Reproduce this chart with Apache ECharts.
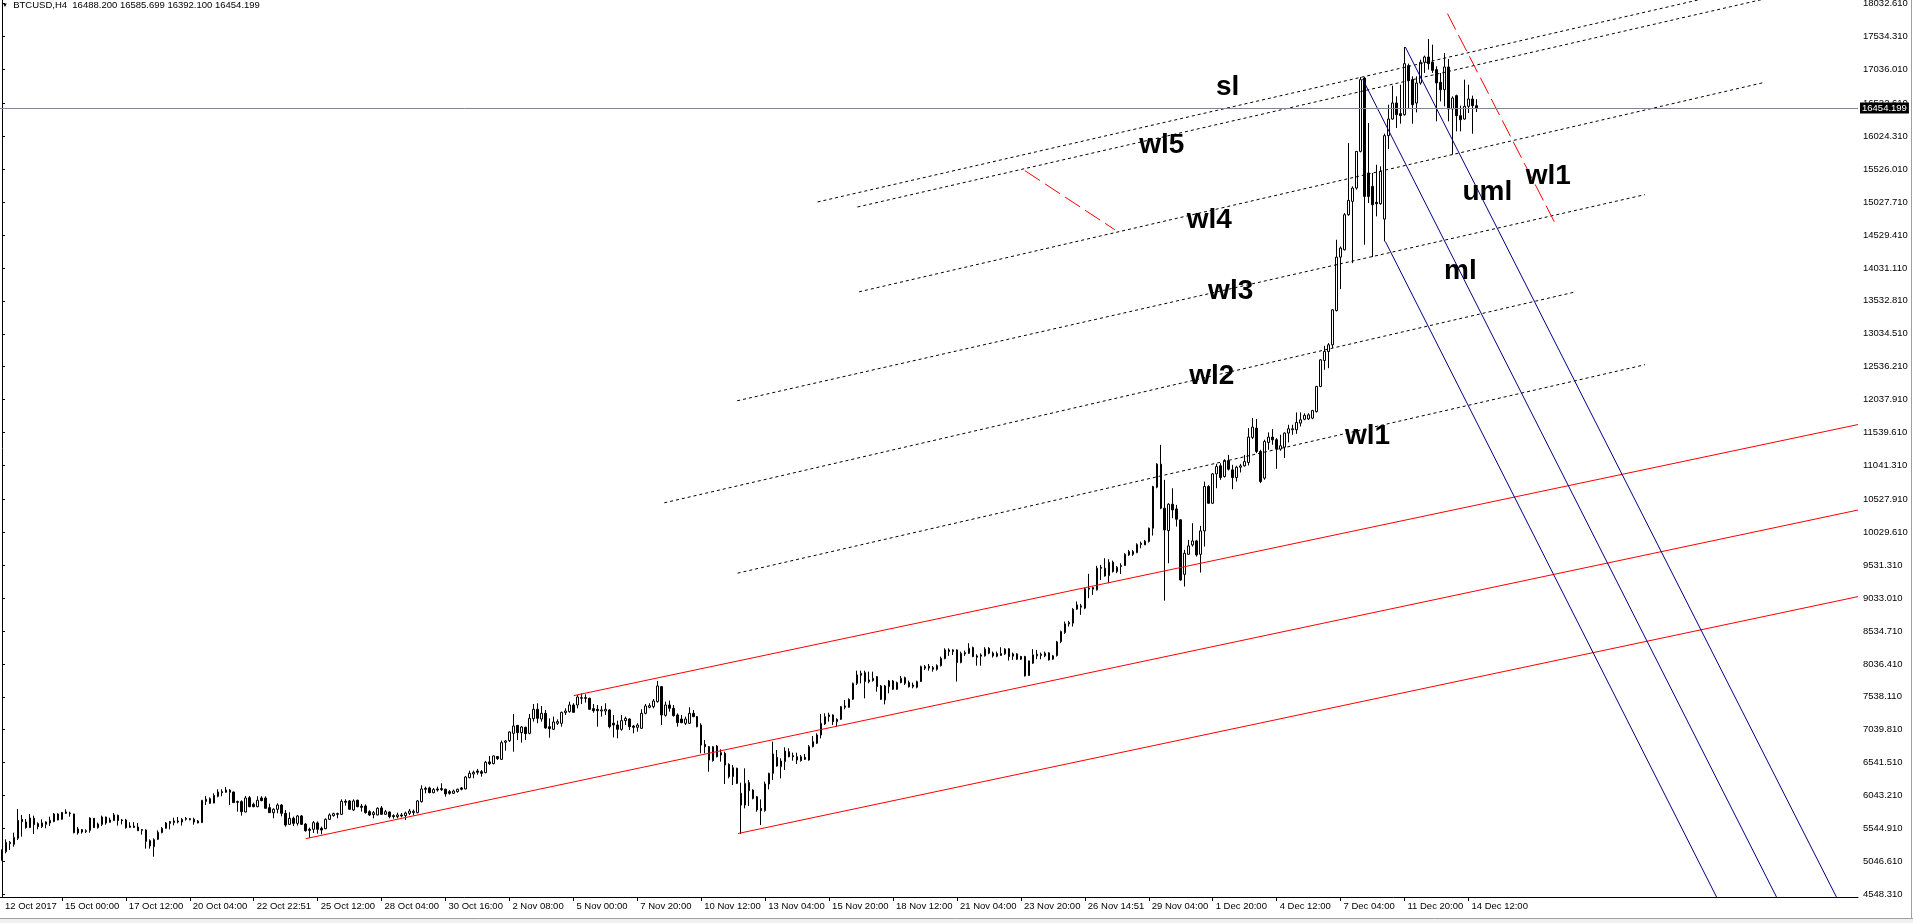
<!DOCTYPE html>
<html><head><meta charset="utf-8">
<script src="https://cdn.jsdelivr.net/npm/echarts@6/dist/echarts.min.js"></script>
<style>html,body{margin:0;padding:0;background:#fff;overflow:hidden}#c{width:1913px;height:923px}</style>
</head><body><div id="c"></div>
<script>
// ---- candle data (BTCUSD H4) ----
const open = [5067,5193,5314,5304,5395,5683,5643,5557,5698,5617,5572,5607,5628,5648,5764,5683,5794,5779,5764,5476,5527,5496,5516,5698,5557,5607,5718,5638,5663,5744,5673,5673,5582,5580,5567,5527,5521,5360,5269,5380,5481,5547,5648,5633,5658,5643,5698,5693,5683,5658,5633,5986,5996,5930,6032,6102,6092,6127,6097,5951,5951,5794,6011,5910,5875,6006,6006,5860,5784,5835,5900,5774,5607,5698,5622,5734,5612,5532,5532,5628,5547,5542,5683,5739,5769,5759,5956,5961,5825,5971,5880,5885,5799,5754,5749,5855,5759,5794,5739,5724,5749,5739,5774,5784,5784,5951,6153,6158,6087,6143,6148,6138,6102,6077,6102,6158,6143,6314,6370,6415,6405,6390,6552,6526,6633,
6591,6849,6874,6985,7106,6995,7076,6985,7207,7349,7202,7288,7086,7046,7137,7137,7298,7313,7414,7414,7515,7525,7515,7359,7349,7323,7323,7339,7137,7111,7046,7177,7202,7096,7076,7061,7288,7379,7389,7465,7692,7258,7414,7364,7263,7202,7137,7137,7288,7238,7111,6818,6783,6571,6793,6657,6682,6515,6329,6455,6076,5899,6238,6127,6025,5849,5814,6218,6379,6621,6480,6556,6707,6647,6631,6571,6621,6581,6783,6834,6960,7127,7238,7263,7162,7197,7379,7379,7500,7742,7864,7904,7793,7783,7843,7702,7490,7692,7778,7652,7753,7828,7753,7692,7682,7768,7970,7975,7955,7955,8010,8116,8222,8222,8248,8056,8187,8197,8283,8157,8152,8158,8274,8198,
8193,8163,8188,8264,8153,8188,8148,8148,7860,8047,8158,8163,8158,8203,8107,8163,8375,8511,8642,8653,8865,8895,8880,9168,9168,9158,9499,9484,9373,9575,9434,9509,9525,9686,9737,9722,9843,9838,9889,10090,10712,11060,10393,10055,10454,10383,10217,9393,9696,9838,9898,9696,10050,10722,10469,10913,11035,10873,11115,10974,10858,11014,11035,11086,11465,11606,11253,10849,11389,11470,11430,11288,11318,11531,11581,11581,11682,11740,11746,11757,11857,12236,12630,12766,12867,13387,14195,14306,14837,15039,15241,15796,16907,15468,15266,15024,15004,14771,16034,16286,16529,16367,16352,17094,16882,16528,16831,17145,17225,17145,17034,16842,16730,17074,16438,16640,16337,16286,16478,16589,16488.2];
const close = [5203,5335,5335,5410,5668,5648,5557,5703,5602,5572,5628,5643,5668,5764,5673,5789,5774,5769,5481,5537,5491,5511,5703,5557,5612,5718,5628,5673,5749,5663,5663,5557,5562,5560,5511,5516,5350,5279,5375,5486,5547,5628,5622,5658,5643,5683,5683,5678,5643,5628,5971,5956,5925,6047,6097,6087,6127,6092,5936,5941,5799,6006,5875,5875,5971,5966,5850,5784,5835,5900,5774,5597,5698,5622,5734,5607,5511,5516,5633,5532,5521,5683,5749,5769,5759,5956,5941,5835,5961,5875,5865,5784,5749,5784,5850,5759,5799,5724,5724,5749,5734,5779,5809,5804,5961,6143,6138,6087,6133,6127,6133,6067,6077,6112,6138,6138,6324,6380,6395,6395,6380,6547,6526,6643,6602,
6844,6869,7005,7096,6995,7081,6980,7212,7349,7212,7288,7066,7056,7157,7162,7303,7323,7414,7303,7535,7525,7515,7349,7328,7328,7339,7349,7086,7111,7046,7177,7212,7086,7076,7111,7288,7399,7404,7475,7702,7263,7414,7364,7253,7147,7147,7202,7288,7238,7086,6808,6783,6581,6783,6631,6692,6505,6329,6465,6228,5899,6228,6117,6000,5824,5814,6218,6379,6672,6490,6566,6717,6631,6631,6581,6631,6591,6783,6859,6960,7137,7238,7263,7162,7197,7389,7399,7500,7742,7869,7894,7768,7768,7818,7692,7500,7702,7778,7652,7753,7818,7742,7692,7717,7768,7995,7995,8000,7980,8010,8121,8248,8248,8248,8056,8197,8207,8273,8147,8137,8172,8259,8198,8158,
8153,8193,8259,8148,8188,8107,8107,7855,8082,8173,8183,8183,8198,8097,8158,8370,8526,8642,8663,8865,8930,8915,9173,9183,9193,9486,9484,9368,9575,9434,9499,9525,9696,9737,9696,9843,9863,9894,10090,10722,11060,10393,10065,10454,10368,10227,9307,9712,9823,9898,9686,10050,10722,10469,10913,11024,10858,11115,10984,10858,11014,11035,11100,11470,11621,11253,10798,11404,11470,11430,11293,11339,11531,11596,11596,11692,11732,11800,11807,11872,12236,12640,12766,12867,13397,14195,14332,14837,15054,15241,15796,16882,15114,15114,14988,15004,15493,16034,16286,16529,16352,16337,17124,16872,16503,16831,17145,17225,17124,17023,16831,16730,17074,16438,16604,16337,16276,16478,16589,16488,16454.199];
const low = [5057,5168,5218,5269,5370,5420,5542,5552,5461,5532,5552,5547,5582,5640,5668,5678,5764,5724,5471,5451,5466,5476,5481,5552,5542,5582,5602,5633,5658,5587,5607,5542,5557,5555,5506,5451,5239,5239,5117,5370,5471,5542,5532,5592,5622,5587,5663,5668,5602,5622,5628,5900,5920,5925,6016,6032,6087,5900,5930,5799,5739,5789,5865,5865,5865,5956,5845,5779,5698,5774,5729,5572,5597,5582,5587,5597,5496,5400,5476,5466,5456,5532,5673,5724,5698,5749,5890,5825,5809,5865,5799,5769,5734,5698,5744,5749,5749,5698,5693,5698,5713,5673,5749,5744,5774,5936,6077,6077,6077,6102,6112,6027,6057,6067,6087,6122,6138,6304,6304,6360,6330,6380,6506,6516,6582,
6581,6722,6854,6707,6884,6844,6884,6970,7162,7137,7162,7056,6919,7035,7111,7086,7263,7298,7298,7364,7429,7450,7339,7298,7086,7238,7263,7061,6924,6909,7025,7111,7035,6985,7010,7051,7273,7364,7364,7450,7111,7238,7313,7238,7086,7137,7111,7127,7228,7076,6682,6682,6404,6556,6621,6556,6217,6303,6202,6217,5460,5849,5884,5985,5798,5596,5798,6137,6278,6480,6303,6430,6621,6571,6520,6556,6581,6571,6773,6823,6909,7111,7162,7111,7086,7187,7349,7374,7490,7717,7742,7515,7742,7768,7616,7490,7424,7591,7642,7642,7742,7717,7677,7667,7667,7763,7944,7934,7919,7934,7995,8106,8157,8172,7768,8046,8157,8187,8137,8010,8008,8147,8183,8132,
8137,8158,8173,8087,8097,8097,8097,7845,7855,8036,8107,8107,8137,8087,8097,8147,8350,8491,8602,8602,8855,8779,8865,9031,9082,9147,9307,9358,9257,9419,9409,9398,9520,9671,9671,9712,9787,9838,9873,9979,10696,10378,8994,9560,10242,10116,9297,9207,9686,9813,9661,9419,9813,10459,10459,10696,10823,10858,10964,10681,10797,10934,11024,11041,11440,11228,10773,10824,11278,11354,10990,11263,11152,11389,11505,11520,11632,11725,11731,11741,11842,12226,12489,12514,12817,13372,13711,14296,14822,14104,15216,15781,14382,15014,14195,14812,14988,14433,15832,16276,16150,16215,16337,16453,16215,16387,16806,16983,17034,16983,16251,16554,16478,16251,15746,16099,16099,16276,16377,16064,16392.1];
const high = [5229,5380,5355,5481,5840,5749,5688,5764,5739,5638,5683,5653,5724,5779,5774,5792,5835,5799,5768,5567,5537,5532,5713,5703,5633,5739,5724,5708,5779,5754,5688,5688,5638,5640,5628,5537,5532,5380,5395,5516,5567,5643,5658,5708,5718,5703,5718,5703,5708,5673,5976,6037,6016,6077,6138,6138,6173,6138,6102,5966,5971,6037,6037,5936,6032,6032,6032,5920,5850,5925,5915,5825,5789,5724,5749,5749,5628,5557,5658,5653,5572,5698,5774,5784,5784,5986,5986,5976,5986,5981,5915,5910,5820,5809,5865,5885,5825,5804,5759,5784,5779,5799,5840,5830,5976,6198,6178,6178,6158,6178,6229,6148,6127,6133,6148,6173,6340,6420,6420,6446,6430,6567,6643,6648,6643,
6874,6884,7015,7278,7111,7096,7086,7278,7429,7440,7399,7339,7212,7238,7197,7313,7364,7465,7440,7566,7591,7576,7525,7429,7414,7399,7440,7349,7263,7177,7263,7238,7212,7111,7137,7349,7429,7440,7505,7778,7702,7465,7480,7414,7288,7263,7238,7379,7339,7248,7137,6884,6793,6793,6808,6742,6707,6531,6505,6465,6238,6455,6278,6137,6036,5985,6253,6389,6859,6732,6606,6773,6758,6692,6692,6657,6672,6808,6945,6985,7278,7288,7298,7273,7212,7399,7490,7515,7753,7934,7934,7934,7919,7919,7853,7717,7717,7793,7793,7768,7853,7843,7783,7753,7783,8010,8020,8035,8005,8030,8147,8273,8273,8258,8258,8222,8237,8349,8298,8182,8195,8289,8289,8223,
8223,8289,8274,8274,8208,8198,8158,8158,8087,8259,8248,8208,8223,8213,8173,8385,8541,8678,8688,8880,8981,8945,9188,9400,9208,9521,9535,9636,9621,9600,9520,9560,9712,9762,9762,9863,9888,9914,10100,10732,11075,11353,10823,10469,10696,10444,10227,9762,9914,10166,9914,10126,10797,10742,10924,11065,11075,11136,11201,11050,11035,11065,11201,11606,11758,11743,11278,11430,11541,11591,11455,11505,11541,11657,11657,11844,11844,11830,11832,11882,12246,12650,12852,12893,13408,14458,14357,14862,15922,15266,15801,16922,16922,16226,15468,15594,15569,16064,16503,16791,16630,16806,17377,17124,16932,16932,17185,17246,17498,17412,17084,16983,17286,17195,16630,16655,16488,16882,16806,16640,16585.699];

const header = 'BTCUSD,H4  16488.200 16585.699 16392.100 16454.199';
const lastPrice = 16454.199;
const totalBars = 465;              // bars of room on the time axis (incl. chart shift)
const timeLabels = ['12 Oct 2017','15 Oct 00:00','17 Oct 12:00','20 Oct 04:00','22 Oct 22:51','25 Oct 12:00','28 Oct 04:00','30 Oct 16:00','2 Nov 08:00','5 Nov 00:00','7 Nov 20:00','10 Nov 12:00','13 Nov 04:00','15 Nov 20:00','18 Nov 12:00','21 Nov 04:00','23 Nov 20:00','26 Nov 14:51','29 Nov 04:00','1 Dec 20:00','4 Dec 12:00','7 Dec 04:00','11 Dec 20:00','14 Dec 12:00'];
const priceTicks = [4548.31,5046.61,5544.91,6043.21,6541.51,7039.81,7538.11,8036.41,8534.71,9033.01,9531.31,10029.61,10527.91,11041.31,11539.61,12037.91,12536.21,13034.51,13532.81,14031.11,14529.41,15027.71,15526.01,16024.31,16522.61,17036.01,17534.31,18032.61];

// drawn objects: [barIndex, price] endpoints
const redLines = [
  [[143.1,7556],[464.5,11660]],
  [[76,5390],[464.5,10366]],
  [[184.2,5468],[464.5,9055]]
];
const blueLines = [
  [[351.2,17377],[459.1,4507]],
  [[340.5,16893],[444.1,4507]],
  [[346.2,14433],[429.1,4507]]
];
const dottedLines = [
  [[204.1,15030],[429.5,18158]],
  [[214.1,14954],[447,18186]],
  [[214.5,13670],[441.2,16842]],
  [[184,12020],[411.2,15141]],
  [[165.75,10475],[393.25,13661]],
  [[184.1,9410],[411.2,12566]]
];
const redDashed = [
  [[256,15504],[278.5,14610]],
  [[361.75,17882],[389,14671]]
];
const notes = [
  [306.75,16761,'sl'],[290.25,15883,'wl5'],[302.15,14747,'wl4'],[307.5,13671,'wl3'],
  [302.75,12384,'wl2'],[341.75,11475,'wl1'],[371.75,15171,'uml'],[365,13974,'ml'],[387,15413,'wl1']
];

// ---- build ----
const categories = Array.from({length: totalBars}, (_, i) => String(i));
const labelAt = new Map();
timeLabels.forEach((t, k) => labelAt.set(k === 0 ? 0 : 15 + 16 * (k - 1), t));
const candles = open.map((o, i) => [o, close[i], low[i], high[i]]);
const FONT = 'Liberation Sans, Arial, sans-serif';

function lineSeries(list, color, type, z) {
  return list.map(pts => ({
    type: 'line', xAxisIndex: 1, yAxisIndex: 0, data: pts, symbol: 'none', showSymbol: false,
    silent: true, animation: false, clip: true, z: z,
    lineStyle: { color: color, width: 1, type: type }
  }));
}

const chart = echarts.init(document.getElementById('c'), null, { renderer: 'canvas' });
chart.setOption({
  animation: false,
  backgroundColor: '#ffffff',
  textStyle: { fontFamily: FONT },
  title: {
    left: 2, top: 0, padding: 0,
    text: '{t|▼}  ' + header,
    textStyle: { fontSize: 9.5, fontWeight: 'normal', color: '#000', fontFamily: FONT,
      rich: { t: { fontSize: 6, color: '#000' } } }
  },
  grid: { left: 0, right: 55, top: 0, bottom: 26, containLabel: false, outerBoundsMode: 'none' },
  xAxis: [
    {
      type: 'category', data: categories, boundaryGap: true,
      axisLine: { show: true, lineStyle: { color: '#000', width: 1 } },
      axisTick: { show: true, alignWithLabel: true, length: 4, lineStyle: { color: '#000' },
        interval: (i) => labelAt.has(i) && i !== 0 },
      axisLabel: { interval: (i) => labelAt.has(i), formatter: (v, i) => labelAt.get(Number(v)) || '',
        align: 'left', margin: 4, padding: [0, 0, 0, 3], fontSize: 9.5, color: '#000', fontFamily: FONT },
      splitLine: { show: false }
    },
    { type: 'value', min: -0.5, max: totalBars - 0.5, show: false }
  ],
  yAxis: {
    type: 'value', position: 'right', min: 4507, max: 18088, scale: true,
    axisLine: { show: true, lineStyle: { color: '#000', width: 1 } },
    axisTick: { show: true, length: 3, customValues: priceTicks, lineStyle: { color: '#000' } },
    axisLabel: { customValues: priceTicks, formatter: v => Number(v).toFixed(3), margin: 5,
      fontSize: 9.5, color: '#000', fontFamily: FONT },
    splitLine: { show: false }
  },
  series: [
    {
      type: 'candlestick', xAxisIndex: 0, yAxisIndex: 0, data: candles, barWidth: 2, z: 2,
      itemStyle: { color: '#ffffff', color0: '#000000', borderColor: '#000000', borderColor0: '#000000', borderWidth: 1 },
      markLine: {
        silent: true, symbol: ['none', 'none'], animation: false, z: 20,
        lineStyle: { color: '#7d8794', width: 1, type: 'solid' },
        label: { show: true, position: 'end', distance: 2, formatter: lastPrice.toFixed(3),
          backgroundColor: '#000', color: '#fff', padding: [1, 2, 0, 2], fontSize: 9.5, fontFamily: FONT },
        data: [{ yAxis: lastPrice }]
      }
    },
    ...lineSeries(dottedLines, '#000000', [3, 3], 3),
    ...lineSeries(redLines, '#ff0000', 'solid', 4),
    ...lineSeries(blueLines, '#000080', 'solid', 4),
    ...lineSeries(redDashed, '#ff0000', [18, 6], 4),
    {
      type: 'scatter', xAxisIndex: 1, yAxisIndex: 0, silent: true, z: 6,
      data: notes.map(n => ({ value: [n[0], n[1]], name: n[2] })),
      symbol: 'circle', symbolSize: 2, itemStyle: { color: 'rgba(255,255,255,0)', opacity: 1 },
      labelLayout: { hideOverlap: false },
      label: { show: true, position: 'inside', formatter: p => p.name, color: '#000', opacity: 1,
        fontSize: 28, fontWeight: 'bold', fontFamily: FONT }
    }
  ],
  graphic: [
    { type: 'rect', shape: { x: 0, y: 919, width: 1913, height: 4 }, style: { fill: '#f0f0f0' }, silent: true },
    { type: 'line', shape: { x1: 0, y1: 918.5, x2: 1913, y2: 918.5 }, style: { stroke: '#a0a0a0', lineWidth: 1 }, silent: true },
    { type: 'line', shape: { x1: 1911.5, y1: 0, x2: 1911.5, y2: 918 }, style: { stroke: '#a0a0a0', lineWidth: 1 }, silent: true }
  ]
});
</script></body></html>
